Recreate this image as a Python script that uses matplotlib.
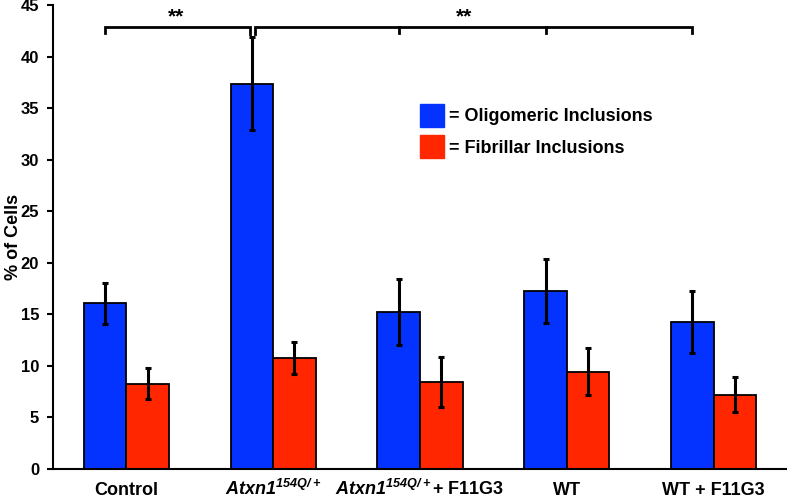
import numpy as np
import matplotlib
matplotlib.use('Agg')
import matplotlib.pyplot as plt
from matplotlib.patches import Patch

plt.rcParams['font.family'] = ['Liberation Sans', 'DejaVu Sans']
plt.rcParams['mathtext.fontset'] = 'custom'
plt.rcParams['mathtext.rm'] = 'Liberation Sans:bold:italic'
plt.rcParams['mathtext.bf'] = 'Liberation Sans:bold:italic'
plt.rcParams['mathtext.it'] = 'Liberation Sans:bold:italic'

# 数据
groups = ['Control', r'$\mathit{Atxn1}^{\mathit{154Q/+}}$',
          r'$\mathit{Atxn1}^{\mathit{154Q/+}}$+ F11G3', 'WT', 'WT + F11G3']
oligo = [16.05, 37.35, 15.25, 17.25, 14.25]
oligo_err = [1.95, 4.5, 3.2, 3.1, 3.0]
fibril = [8.25, 10.75, 8.45, 9.45, 7.2]
fibril_err = [1.5, 1.55, 2.45, 2.3, 1.7]
labels = ['= Oligomeric Inclusions', '= Fibrillar Inclusions']
blue = '#0433FF'
red = '#FF2600'

fig = plt.figure(figsize=(7.87, 4.99), dpi=100)
ax = fig.add_axes([0.0673, 0.0601, 0.9327, 0.93])

x = np.arange(len(groups))
w = 0.29
ekw = dict(elinewidth=2.2, capsize=2.5, capthick=2.2, ecolor='black')
ax.bar(x - w / 2, oligo, w, color=blue, edgecolor='black', linewidth=1.3,
       yerr=oligo_err, error_kw=ekw)
ax.bar(x + w / 2, fibril, w, color=red, edgecolor='black', linewidth=1.3,
       yerr=fibril_err, error_kw=ekw)

# 显著性括号
yb, yt = 42.3, 42.85
b0 = x - w / 2
ax.plot([b0[0], b0[0], b0[1] - 0.01, b0[1] - 0.01], [yb, yt, yt, yb - 0.1],
        color='black', lw=2, solid_joinstyle='miter')
ax.plot([b0[1] + 0.02, b0[1] + 0.02, b0[4], b0[4]], [yb - 0.1, yt, yt, yb],
        color='black', lw=2, solid_joinstyle='miter')
for i in (2, 3):
    ax.plot([b0[i], b0[i]], [yt, yb], color='black', lw=2)
ax.text((b0[0] + b0[1]) / 2 - 0.02, 42.9, '**', ha='center', va='bottom',
        fontsize=15, fontweight='bold')
ax.text(2.3, 42.9, '**', ha='center', va='bottom', fontsize=15, fontweight='bold')

ax.set_xlim(-0.5, 4.5)
ax.set_ylim(0, 45)
ax.set_yticks(np.arange(0, 46, 5))
ax.set_xticks(x)
ax.set_xticklabels(groups, fontsize=13, fontweight='bold')
for t in ax.get_xticklabels():
    t.set_verticalalignment('baseline')
ax.tick_params(axis='x', length=0, pad=18.5)
ax.tick_params(axis='y', length=4, width=1.5, labelsize=12, pad=6)
for t in ax.get_yticklabels():
    t.set_fontweight('bold')
ax.set_ylabel('% of Cells', fontsize=13, fontweight='bold')
ax.yaxis.set_label_coords(-0.042, 0.5)
for s in ['top', 'right']:
    ax.spines[s].set_visible(False)
ax.spines['left'].set_linewidth(1.5)
ax.spines['bottom'].set_linewidth(1.5)

handles = [Patch(color=blue), Patch(color=red)]
leg = ax.legend(handles, labels, loc='upper left', bbox_to_anchor=(0.478, 0.822),
                frameon=False, handlelength=1.3, handleheight=1.6,
                handletextpad=0.3, labelspacing=0.45,
                prop={'weight': 'bold', 'size': 13})

fig.savefig('out.png', dpi=100)
